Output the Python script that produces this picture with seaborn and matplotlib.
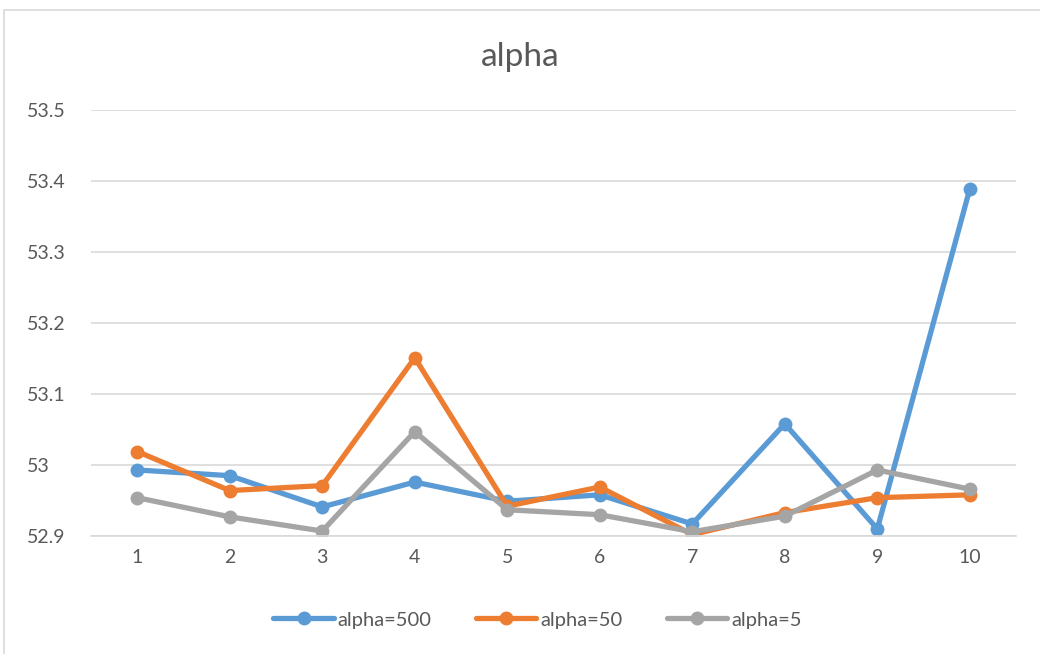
import pandas as pd
import matplotlib
matplotlib.use("Agg")
import matplotlib.pyplot as plt
from matplotlib.patches import Rectangle
from matplotlib.ticker import FuncFormatter
import seaborn as sns

# data
categories = [1, 2, 3, 4, 5, 6, 7, 8, 9, 10]
alpha_500 = [52.993, 52.985, 52.941, 52.976, 52.949, 52.958, 52.917, 53.058, 52.910, 53.389]
alpha_50 = [53.019, 52.964, 52.971, 53.151, 52.942, 52.969, 52.902, 52.933, 52.954, 52.958]
alpha_5 = [52.954, 52.927, 52.907, 53.047, 52.937, 52.930, 52.906, 52.928, 52.993, 52.966]
series_names = ["alpha=500", "alpha=50", "alpha=5"]
colors = ["#5B9BD5", "#ED7D31", "#A5A5A5"]

df = pd.DataFrame({
    "x": categories * 3,
    "value": alpha_500 + alpha_50 + alpha_5,
    "series": [series_names[0]] * 10 + [series_names[1]] * 10 + [series_names[2]] * 10,
})

sns.set_theme(style="white")
plt.rcParams["font.family"] = ["Lato", "DejaVu Sans"]
text_col = "#595959"
grid_col = "#D9D9D9"

fig = plt.figure(figsize=(10.4, 6.54), dpi=100)
ax = fig.add_axes([0.0875, 0.1804, 0.8895, 0.6514])

sns.lineplot(data=df, x="x", y="value", hue="series", hue_order=series_names,
             palette=colors, marker="o", markersize=10, markeredgewidth=0,
             linewidth=3.8, ax=ax, legend=True)

ax.set_xlim(0.5, 10.5)
ax.set_ylim(52.9, 53.5)
ax.set_xticks(categories)
ax.set_yticks([52.9, 53.0, 53.1, 53.2, 53.3, 53.4, 53.5])
ax.yaxis.set_major_formatter(FuncFormatter(lambda v, p: f"{round(v, 1):g}"))
ax.grid(axis="y", color=grid_col, linewidth=1.2)
ax.set_axisbelow(True)
for s in ["top", "right", "left"]:
    ax.spines[s].set_visible(False)
ax.spines["bottom"].set_color(grid_col)
ax.spines["bottom"].set_linewidth(1.2)
ax.tick_params(axis="both", length=0, labelsize=14, colors=text_col)
ax.tick_params(axis="x", pad=9)
ax.tick_params(axis="y", pad=46)
ax.set_xlabel("")
ax.set_ylabel("")
for lbl in ax.get_yticklabels():
    lbl.set_horizontalalignment("left")

fig.text(0.5, 0.913, "alpha", ha="center", va="center", fontsize=24, color=text_col)

handles, labels = ax.get_legend_handles_labels()
ax.get_legend().remove()
leg = fig.legend(handles, labels, loc="center", bbox_to_anchor=(0.517, 0.052), ncol=3,
                 frameon=False, fontsize=14.5, handlelength=3.0, handletextpad=0.2,
                 columnspacing=2.2)
for t in leg.get_texts():
    t.set_color(text_col)

# chart area border
fig.patches.append(Rectangle((0.004, -0.02), 1.2, 1.005, transform=fig.transFigure,
                             fill=False, edgecolor=grid_col, linewidth=1.2))

fig.savefig("out.png", dpi=100)
